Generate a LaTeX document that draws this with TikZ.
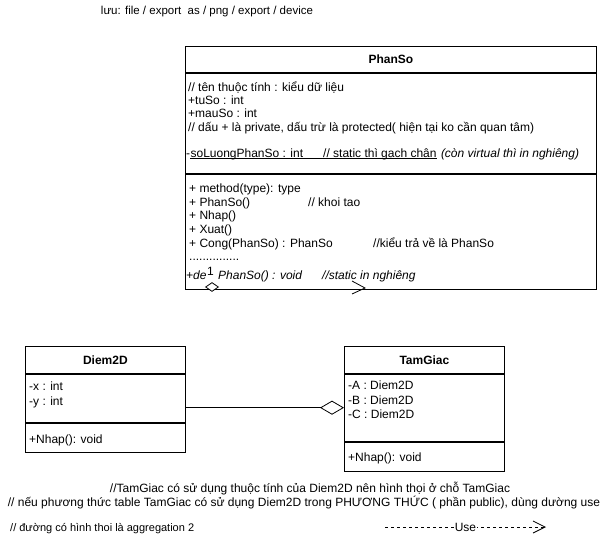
\documentclass[tikz,border=0pt]{standalone}
\usepackage{fontspec}
\setmainfont{Liberation Sans}
\usetikzlibrary{positioning,arrows.meta,shapes.geometric}

\begin{document}
\begin{tikzpicture}[x=1pt, y=-1pt, font=\fontsize{12}{14}\selectfont,
  box/.style = {draw, line width=0.8pt, anchor=north west, inner sep=0pt, font=\fontsize{12}{14}\selectfont\bfseries},
  txt/.style = {anchor=base west, inner sep=0pt},
  agg/.style = {line width=0.8pt, -{Diamond[open, length=24pt, width=14pt]}},
  use/.style = {line width=0.8pt, dash pattern=on 3pt off 3pt, -{Straight Barb[length=12pt, width=12pt]}}]
\useasboundingbox (0,0) rectangle (611,541);

\node[font=\fontsize{11.5}{14}\selectfont] (note) at (207,12) {lưu: file / export\ \ as / png / export / device};

% PhanSo
\node[box, minimum width=411pt, minimum height=26pt] (ps) at (185,46) {PhanSo};
\node[box, minimum width=411pt, minimum height=100pt, below=0pt of ps] (psa) {};
\node[box, minimum width=411pt, minimum height=115pt, below=0pt of psa] (psm) {};
\node[txt] (a1) at (188,91) {// tên thuộc tính : kiểu dữ liệu};
\node[txt] (a2) at (188,104) {+tuSo : int};
\node[txt] (a3) at (188,117) {+mauSo : int};
\node[txt] (a4) at (188,131) {// dấu + là private, dấu trừ là protected( hiện tại ko cần quan tâm)};
\node[txt] (a5) at (186,157) {-};
\node[txt, base right=0pt of a5] (a6) {soLuongPhanSo : int};
\node[txt] (a7) at (323,157) {// static thì gạch chân};
\node[txt, base right=4pt of a7] (a8) {\itshape (còn virtual thì in nghiêng)};
\draw[line width=0.6pt] ([yshift=-1.5pt]a6.base west) -- ([yshift=-1.5pt]a7.base east);
\node[txt] (m1) at (189,192) {+ method(type): type};
\node[txt] (m2) at (189,206) {+ PhanSo()};
\node[txt] (m3) at (308,206) {// khoi tao};
\node[txt] (m4) at (189,219) {+ Nhap()};
\node[txt] (m5) at (189,233) {+ Xuat()};
\node[txt] (m6) at (189,247) {+ Cong(PhanSo) : PhanSo};
\node[txt] (m7) at (373,247) {//kiểu trả về là PhanSo};
\node[txt] (m8) at (189,260) {...............};
\node[txt] (m9) at (186,279) {\itshape +de};
\node[txt] (one) at (207,275) {1};
\node[txt] (m10) at (218,279) {\itshape PhanSo() : void};
\node[txt] (m11) at (322,279) {\itshape //static in nghiêng};
\node[diamond, draw, fill=white, line width=0.8pt, minimum width=13pt, minimum height=9pt, inner sep=0pt] (dia) at (212,287) {};
\draw[line width=0.8pt] (352,281) -- (365,288) -- (352,294);

% Diem2D
\node[box, minimum width=160pt, minimum height=27pt] (d) at (25,346) {Diem2D};
\node[box, minimum width=160pt, minimum height=48pt, below=0pt of d] (da) {};
\node[box, minimum width=160pt, minimum height=29pt, below=0pt of da] (dm) {};
\node[txt] (d1) at (29,390) {-x : int};
\node[txt] (d2) at (29,405) {-y : int};
\node[txt] (d3) at (29,443) {+Nhap(): void};

% TamGiac
\node[box, minimum width=160pt, minimum height=27pt] (t) at (344,346) {TamGiac};
\node[box, minimum width=160pt, minimum height=67pt, below=0pt of t] (ta) {};
\node[box, minimum width=160pt, minimum height=29pt, below=0pt of ta] (tm) {};
\node[txt] (t1) at (348,389) {-A : Diem2D};
\node[txt] (t2) at (348,404) {-B : Diem2D};
\node[txt] (t3) at (348,418) {-C : Diem2D};
\node[txt] (t4) at (348,461) {+Nhap(): void};

\draw[agg] (da.east |- ta.west) -- (ta.west);

% ghi chu
\node (c1) at (310,489) {//TamGiac có sử dụng thuộc tính của Diem2D nên hình thọi ở chỗ TamGiac};
\node (c2) at (304,503) {// nếu phương thức table TamGiac có sử dụng Diem2D trong PHƯƠNG THỨC ( phần public), dùng dường use};
\node[txt, font=\fontsize{11}{13}\selectfont] (c3) at (10,531) {// đường có hình thoi là aggregation 2};
\coordinate (u1) at (385,527);
\coordinate (u2) at (546,527);
\draw[use] (u1) -- node[fill=white, inner sep=1pt] {Use} (u2);
\end{tikzpicture}
\end{document}
